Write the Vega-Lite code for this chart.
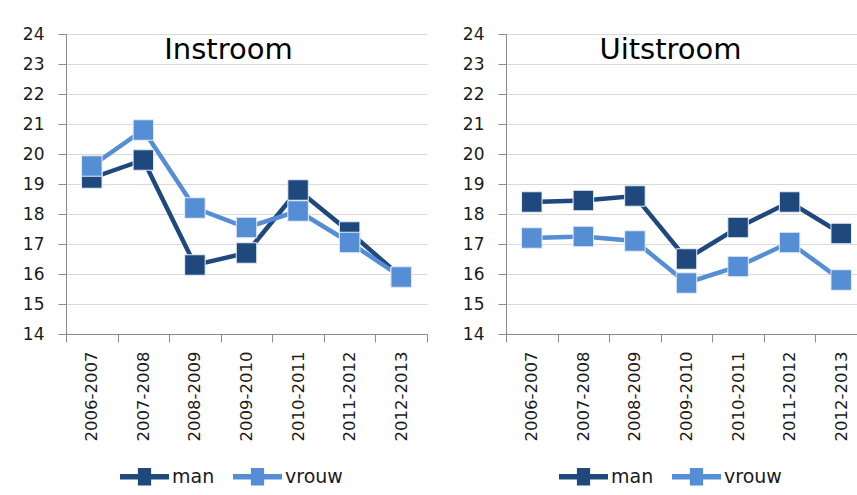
{
  "$schema": "https://vega.github.io/schema/vega-lite/v6.json",
  "padding": {"left": 22, "top": 25, "right": 0, "bottom": 0},
  "background": "white",
  "config": {
    "view": {"stroke": null},
    "font": "DejaVu Sans",
    "axis": {"labelFont": "DejaVu Sans", "labelFontSize": 17, "labelColor": "#1a1a1a", "domainColor": "#8c8c8c", "tickColor": "#8c8c8c", "gridColor": "#d9d9d9", "title": null},
    "legend": {"labelFont": "DejaVu Sans", "labelFontSize": 19, "labelColor": "#1a1a1a"}
  },
  "datasets": {
    "instroom": [
      {"jaar": "2006-2007", "geslacht": "man", "waarde": 19.2},
      {"jaar": "2007-2008", "geslacht": "man", "waarde": 19.8},
      {"jaar": "2008-2009", "geslacht": "man", "waarde": 16.3},
      {"jaar": "2009-2010", "geslacht": "man", "waarde": 16.7},
      {"jaar": "2010-2011", "geslacht": "man", "waarde": 18.8},
      {"jaar": "2011-2012", "geslacht": "man", "waarde": 17.4},
      {"jaar": "2012-2013", "geslacht": "man", "waarde": 15.9},
      {"jaar": "2006-2007", "geslacht": "vrouw", "waarde": 19.6},
      {"jaar": "2007-2008", "geslacht": "vrouw", "waarde": 20.8},
      {"jaar": "2008-2009", "geslacht": "vrouw", "waarde": 18.2},
      {"jaar": "2009-2010", "geslacht": "vrouw", "waarde": 17.55},
      {"jaar": "2010-2011", "geslacht": "vrouw", "waarde": 18.1},
      {"jaar": "2011-2012", "geslacht": "vrouw", "waarde": 17.05},
      {"jaar": "2012-2013", "geslacht": "vrouw", "waarde": 15.9}
    ],
    "uitstroom": [
      {"jaar": "2006-2007", "geslacht": "man", "waarde": 18.4},
      {"jaar": "2007-2008", "geslacht": "man", "waarde": 18.45},
      {"jaar": "2008-2009", "geslacht": "man", "waarde": 18.6},
      {"jaar": "2009-2010", "geslacht": "man", "waarde": 16.5},
      {"jaar": "2010-2011", "geslacht": "man", "waarde": 17.55},
      {"jaar": "2011-2012", "geslacht": "man", "waarde": 18.4},
      {"jaar": "2012-2013", "geslacht": "man", "waarde": 17.35},
      {"jaar": "2006-2007", "geslacht": "vrouw", "waarde": 17.2},
      {"jaar": "2007-2008", "geslacht": "vrouw", "waarde": 17.25},
      {"jaar": "2008-2009", "geslacht": "vrouw", "waarde": 17.1},
      {"jaar": "2009-2010", "geslacht": "vrouw", "waarde": 15.7},
      {"jaar": "2010-2011", "geslacht": "vrouw", "waarde": 16.25},
      {"jaar": "2011-2012", "geslacht": "vrouw", "waarde": 17.05},
      {"jaar": "2012-2013", "geslacht": "vrouw", "waarde": 15.8}
    ]
  },
  "spacing": 34,
  "resolve": {"legend": {"color": "independent"}},
  "hconcat": [
    {
      "width": 361,
      "height": 300,
      "data": {"name": "instroom"},
      "title": {"text": "Instroom", "font": "DejaVu Sans", "fontSize": 29, "fontWeight": "normal", "color": "#000000", "anchor": "middle", "offset": -40, "dx": -18},
      "mark": {"type": "line", "strokeWidth": 4.5, "point": {"shape": "square", "size": 420, "filled": true, "opacity": 1, "stroke": "#e4edf8", "strokeWidth": 1}},
      "encoding": {
        "x": {"field": "jaar", "type": "ordinal", "scale": {"type": "band", "paddingInner": 0, "paddingOuter": 0},
              "axis": {"tickBand": "extent", "labelAngle": -90, "labelFontSize": 16.5, "tickSize": 8, "labelPadding": 9, "grid": false}},
        "y": {"field": "waarde", "type": "quantitative", "scale": {"domain": [14, 24], "nice": false, "zero": false},
              "axis": {"values": [14, 15, 16, 17, 18, 19, 20, 21, 22, 23, 24], "tickSize": 8, "labelPadding": 14, "grid": true}},
        "color": {"field": "geslacht", "type": "nominal", "scale": {"domain": ["man", "vrouw"], "range": ["#1F497D", "#558ED5"]},
                  "legend": {"title": null, "orient": "none", "legendX": 54, "legendY": 418, "direction": "horizontal",
                             "symbolType": "M-1,-0.11H-0.27V-0.36H0.27V-0.11H1V0.11H0.27V0.36H-0.27V0.11H-1Z",
                             "symbolSize": 2401, "symbolStrokeWidth": 0, "labelOffset": 3, "columnPadding": 18,
                             "encode": {"symbols": {"update": {"fill": {"scale": "color", "field": "value"}, "stroke": {"value": "transparent"}, "opacity": {"value": 1}}}}}}
      }
    },
    {
      "width": 361,
      "height": 300,
      "data": {"name": "uitstroom"},
      "title": {"text": "Uitstroom", "font": "DejaVu Sans", "fontSize": 29, "fontWeight": "normal", "color": "#000000", "anchor": "middle", "offset": -40, "dx": -16},
      "mark": {"type": "line", "strokeWidth": 4.5, "point": {"shape": "square", "size": 420, "filled": true, "opacity": 1, "stroke": "#e4edf8", "strokeWidth": 1}},
      "encoding": {
        "x": {"field": "jaar", "type": "ordinal", "scale": {"type": "band", "paddingInner": 0, "paddingOuter": 0},
              "axis": {"tickBand": "extent", "labelAngle": -90, "labelFontSize": 16.5, "tickSize": 8, "labelPadding": 9, "grid": false}},
        "y": {"field": "waarde", "type": "quantitative", "scale": {"domain": [14, 24], "nice": false, "zero": false},
              "axis": {"values": [14, 15, 16, 17, 18, 19, 20, 21, 22, 23, 24], "tickSize": 8, "labelPadding": 14, "grid": true}},
        "color": {"field": "geslacht", "type": "nominal", "scale": {"domain": ["man", "vrouw"], "range": ["#1F497D", "#558ED5"]},
                  "legend": {"title": null, "orient": "none", "legendX": 53, "legendY": 418, "direction": "horizontal",
                             "symbolType": "M-1,-0.11H-0.27V-0.36H0.27V-0.11H1V0.11H0.27V0.36H-0.27V0.11H-1Z",
                             "symbolSize": 2401, "symbolStrokeWidth": 0, "labelOffset": 3, "columnPadding": 18,
                             "encode": {"symbols": {"update": {"fill": {"scale": "color", "field": "value"}, "stroke": {"value": "transparent"}, "opacity": {"value": 1}}}}}}
      }
    }
  ]
}
